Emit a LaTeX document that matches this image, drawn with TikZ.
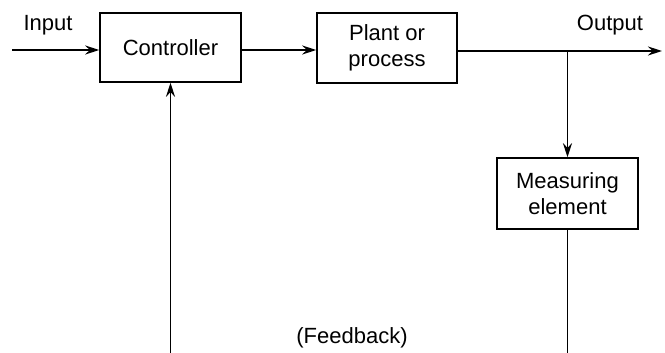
\documentclass[tikz,border=0pt]{standalone}
\usepackage{fontspec}
\setmainfont{Liberation Sans}
\usetikzlibrary{arrows.meta}

\begin{document}
\begin{tikzpicture}[->, >={Stealth[length=7pt,width=4.5pt]}, x=0.5pt, y=-0.5pt, line width=0.75pt,
    every node/.style={font=\fontsize{11}{13}\selectfont},
    block/.style={draw, rectangle, align=center, inner sep=0pt}]
    \useasboundingbox (0,0) rectangle (665,353);
    % Nodes
    \node[block, minimum width=70.5pt, minimum height=34.5pt] (ctrl) at (170.5,47.5) {Controller};
    \node[block, minimum width=70pt, minimum height=35pt] (plant) at (387,48) {Plant or\\process};
    \node[block, minimum width=70.5pt, minimum height=35.5pt] (meas) at (567.5,193.5) {Measuring\\element};

    \coordinate (in) at (12,50);
    \coordinate (out) at (662,51);
    \coordinate (tap) at (567.5,51);
    \coordinate (measbot) at (567.5,353);
    \coordinate (fbbot) at (170.5,353);

    % Labels
    \node (inlabel) at (48,25) {Input};
    \node (outlabel) at (610,25) {Output};
    \node (fblabel) at (352,338) {(Feedback)};

    % Edges
    \draw (in) -- (ctrl.west |- in);
    \draw (ctrl.east |- in) -- (plant.west |- in);
    \draw (plant.east |- out) -- (out);
    \draw (tap) -- (meas.north);
    \draw[-] (meas.south) -- (measbot);
    \draw (fbbot) -- (ctrl.south);
\end{tikzpicture}
\end{document}
